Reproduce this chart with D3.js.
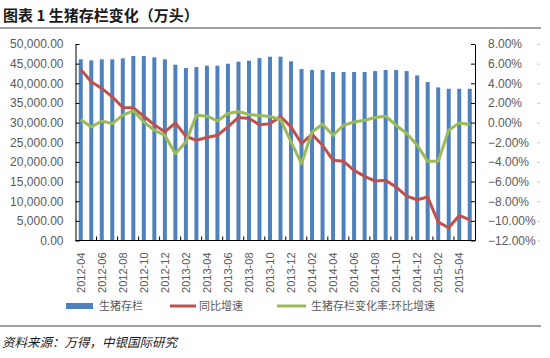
<!DOCTYPE html>
<html>
<head>
<meta charset="utf-8">
<script src="https://cdn.jsdelivr.net/npm/d3@7"></script>
<style>
  html, body { margin: 0; padding: 0; background: #fff; }
  #chart { width: 550px; height: 358px; }
  text { font-family: "Liberation Sans", Arial, "Noto Sans CJK SC", sans-serif; }
</style>
</head>
<body>
<div id="chart"></div>
<script>
// months 2012-04 .. 2015-05
const months = [
  '2012-04','2012-05','2012-06','2012-07','2012-08','2012-09','2012-10','2012-11','2012-12',
  '2013-01','2013-02','2013-03','2013-04','2013-05','2013-06','2013-07','2013-08','2013-09','2013-10','2013-11','2013-12',
  '2014-01','2014-02','2014-03','2014-04','2014-05','2014-06','2014-07','2014-08','2014-09','2014-10','2014-11','2014-12',
  '2015-01','2015-02','2015-03','2015-04','2015-05'
];
// 生猪存栏 (万头)
const stock = [
  46100, 45840, 46100, 46100, 46350, 46940, 46940, 46600, 46100,
  44730, 43880, 44130, 44470, 44470, 44980, 45490, 45750, 46400, 46770, 46770, 45580,
  43620, 43370, 43370, 42860, 42860, 42860, 42860, 43110, 43370, 43370, 43110, 42010,
  40310, 38950, 38610, 38610, 38610
];
// 同比增速 (%)
const yoy = [
  5.42, 4.15, 3.48, 2.62, 1.54, 1.50, 0.65, -0.23, -0.95,
  -0.03, -1.39, -1.80, -1.52, -1.29, -0.44, 0.52, 0.42, -0.21, -0.12, 0.62, -0.44,
  -2.13, -1.18, -2.31, -3.84, -3.94, -4.86, -5.47, -5.95, -5.88, -6.56, -7.48, -7.85,
  -7.58, -10.13, -10.70, -9.45, -9.89
];
// 生猪存栏变化率:环比增速 (%)
const mom = [
  0.32, -0.44, 0.17, -0.10, 0.76, 1.20, 0.07, -0.78, -1.29,
  -3.16, -1.97, 0.76, 0.65, 0.17, 0.93, 1.13, 0.83, 0.72, 0.62, 0.32, -1.97,
  -4.17, -0.95, -0.16, -1.29, -0.27, 0.07, 0.24, 0.52, 0.65, -0.27, -1.11, -2.31,
  -3.94, -3.94, -0.78, -0.03, -0.19
];
const leftTicks = [0, 5000, 10000, 15000, 20000, 25000, 30000, 35000, 40000, 45000, 50000];
const rightTicks = [-12, -10, -8, -6, -4, -2, 0, 2, 4, 6, 8];
const xLabels = months.filter((d, i) => i % 2 === 0);
const legendNames = ['生猪存栏', '同比增速', '生猪存栏变化率:环比增速'];

const W = 550, H = 358;
const margin = {top: 44, right: 75, bottom: 117.5, left: 75.5};
const color = {bar: '#4F81BD', yoy: '#C0504D', mom: '#9BBB59', text: '#595959'};

const svg = d3.select('#chart').append('svg')
  .attr('width', W).attr('height', H);

// title + rules
svg.append('text')
  .attr('x', 3).attr('y', 21)
  .attr('font-size', 15).attr('font-weight', 'bold').attr('fill', '#1a1a1a')
  .style('font-family', '"Noto Sans CJK SC", sans-serif')
  .text('图表 1 生猪存栏变化（万头）');
svg.append('line').attr('x1', 0).attr('x2', 541).attr('y1', 28).attr('y2', 28)
  .attr('stroke', '#808080').attr('stroke-width', 1.5);
svg.append('line').attr('x1', 0).attr('x2', 541).attr('y1', 326).attr('y2', 326)
  .attr('stroke', '#808080').attr('stroke-width', 1.5);
svg.append('text')
  .attr('x', 2).attr('y', 347)
  .attr('font-size', 12.5).attr('font-style', 'italic').attr('fill', '#1a1a1a')
  .style('font-family', '"Noto Sans CJK SC", sans-serif')
  .text('资料来源：万得，中银国际研究');

const x = d3.scaleBand()
  .domain(months)
  .range([margin.left, W - margin.right])
  .paddingInner(0.62).paddingOuter(0.31);
const yL = d3.scaleLinear().domain([0, 50000]).range([H - margin.bottom, margin.top]);
const yR = d3.scaleLinear().domain([-12, 8]).range([H - margin.bottom, margin.top]);
const step = x.step(), half = x.bandwidth() / 2;
const boundary = i => x(months[0]) - step * 0.31 + i * step;

// bars
svg.append('g').selectAll('rect')
  .data(stock)
  .join('rect')
    .attr('x', (d, i) => x(months[i]))
    .attr('width', x.bandwidth())
    .attr('y', d => yL(d))
    .attr('height', d => yL(0) - yL(d))
    .attr('fill', color.bar);

// lines
const line = d3.line()
  .x((d, i) => x(months[i]) + half)
  .y(d => yR(d));
svg.append('path').datum(yoy)
  .attr('fill', 'none').attr('stroke', color.yoy).attr('stroke-width', 3)
  .attr('stroke-linejoin', 'round').attr('d', line);
svg.append('path').datum(mom)
  .attr('fill', 'none').attr('stroke', color.mom).attr('stroke-width', 3)
  .attr('stroke-linejoin', 'round').attr('d', line);

// left axis
svg.append('g')
  .attr('transform', `translate(${margin.left},0)`)
  .call(d3.axisLeft(yL).tickValues(leftTicks).tickFormat(d3.format(',.2f')).tickSize(-4).tickSizeOuter(0).tickPadding(12))
  .call(g => g.select('.domain').attr('stroke', '#000'))
  .call(g => g.selectAll('.tick line').attr('stroke', '#000'))
  .call(g => g.selectAll('.tick text').attr('fill', color.text).attr('font-size', 12)
    .style('font-family', '"Liberation Sans", Arial, sans-serif'));

// right axis
svg.append('g')
  .attr('transform', `translate(${W - margin.right},0)`)
  .call(d3.axisRight(yR).tickValues(rightTicks).tickFormat(d => d3.format('.2f')(d) + '%').tickSize(-4).tickSizeOuter(0).tickPadding(13))
  .call(g => g.select('.domain').attr('stroke', '#000'))
  .call(g => g.selectAll('.tick line').attr('stroke', '#000'))
  .call(g => g.selectAll('.tick text').attr('fill', color.text).attr('font-size', 12)
    .style('font-family', '"Liberation Sans", Arial, sans-serif'))
  .call(g => g.selectAll('.tick').append('line')
    .attr('x1', 62).attr('x2', 65).attr('stroke', '#ccc'));

// bottom axis
const xAxis = svg.append('g')
  .attr('transform', `translate(0,${H - margin.bottom})`);
xAxis.append('line')
  .attr('x1', margin.left).attr('x2', W - margin.right)
  .attr('stroke', '#000');
xAxis.selectAll('.bt')
  .data(d3.range(2, months.length, 2))
  .join('line')
    .attr('x1', d => boundary(d)).attr('x2', d => boundary(d))
    .attr('y1', 0).attr('y2', -4).attr('stroke', '#000');
xAxis.selectAll('.xl')
  .data(xLabels)
  .join('text')
    .attr('transform', d => `translate(${x(d) + half + 4},12) rotate(-90)`)
    .attr('text-anchor', 'end')
    .attr('font-size', 11).attr('fill', color.text)
    .style('font-family', '"Liberation Sans", Arial, sans-serif')
    .text(d => d);

// legend
const lg = svg.append('g').attr('transform', 'translate(0,306)');
lg.append('rect').attr('x', 66).attr('y', -3).attr('width', 27).attr('height', 6).attr('fill', color.bar);
lg.append('line').attr('x1', 170).attr('x2', 196).attr('stroke', color.yoy).attr('stroke-width', 3);
lg.append('line').attr('x1', 277).attr('x2', 306).attr('stroke', color.mom).attr('stroke-width', 3);
lg.selectAll('text')
  .data(legendNames)
  .join('text')
    .attr('x', (d, i) => [99, 199, 311][i])
    .attr('y', 4)
    .attr('font-size', 11).attr('fill', color.text)
    .style('font-family', '"Noto Sans CJK SC", sans-serif')
    .text(d => d);
</script>
</body>
</html>
